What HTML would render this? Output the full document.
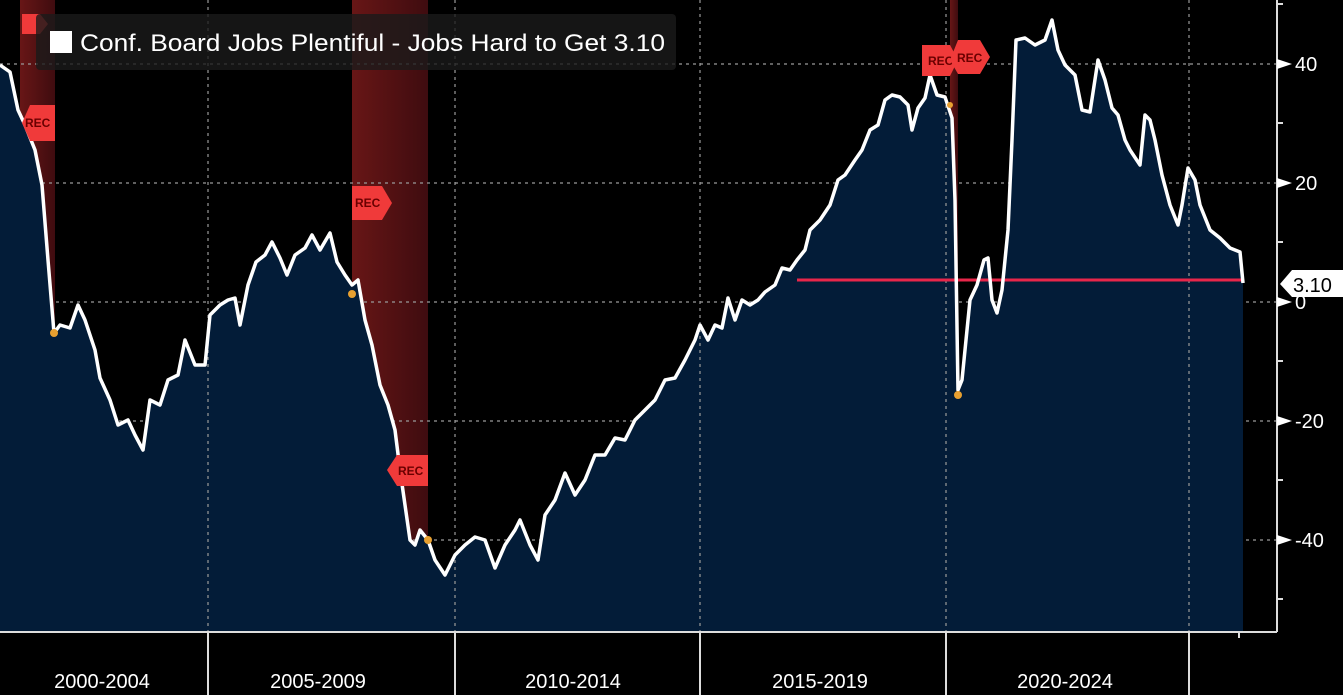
<!DOCTYPE html>
<html><head><meta charset="utf-8"><style>
html,body{margin:0;padding:0;background:#000;}
svg{display:block;font-family:"Liberation Sans",sans-serif;}
</style></head><body>
<svg width="1343" height="695" viewBox="0 0 1343 695">
<defs>
<linearGradient id="rec" x1="0" x2="1" y1="0" y2="0">
<stop offset="0" stop-color="#7a1a1a" stop-opacity="0.85"/><stop offset="1" stop-color="#4a0e12" stop-opacity="0.85"/></linearGradient>
</defs>
<rect width="1343" height="695" fill="#000"/>
<rect x="20" y="0" width="35" height="632" fill="url(#rec)"/>
<rect x="352" y="0" width="76" height="632" fill="url(#rec)"/>
<rect x="950" y="0" width="8" height="632" fill="url(#rec)"/>
<g stroke="#9a9a9a" stroke-width="1.2" stroke-dasharray="3,4">
<line x1="0" y1="64" x2="1277" y2="64"/><line x1="0" y1="183" x2="1277" y2="183"/>
<line x1="0" y1="302" x2="1277" y2="302"/><line x1="0" y1="421" x2="1277" y2="421"/>
<line x1="0" y1="540" x2="1277" y2="540"/>
</g>
<polygon fill="#031c38" points="0,632 0,65 10,72 18,110 25,125 35,150 42,185 48,260 54,333 60,325 70,328 78,305 85,320 95,350 100,378 110,400 118,425 128,420 135,435 143,450 150,400 160,405 168,380 178,375 185,340 195,365 205,365 210,315 220,305 228,300 235,298 240,325 248,285 256,262 265,255 272,242 280,258 287,275 295,255 305,248 312,235 320,250 330,233 337,262 345,275 352,285 358,280 365,320 372,345 380,385 388,405 395,430 400,470 405,505 410,540 415,545 420,530 428,540 435,560 445,575 455,555 465,545 475,537 485,540 495,568 505,545 515,530 520,520 530,545 538,560 545,515 555,500 565,473 575,495 585,480 595,455 605,455 615,438 625,440 635,420 645,410 655,400 665,380 675,378 685,360 695,340 700,325 708,340 715,325 722,328 728,298 735,320 742,300 750,305 758,300 765,292 775,285 782,268 790,270 797,260 805,250 810,230 820,220 830,205 838,180 845,175 855,160 862,150 870,130 878,125 885,100 892,95 900,97 908,105 912,130 918,108 925,98 930,75 937,95 945,97 952,118 955,200 958,390 962,380 966,340 970,300 977,285 984,260 988,258 992,300 997,313 1002,290 1008,230 1012,140 1016,40 1025,38 1035,45 1045,40 1052,20 1058,50 1065,65 1075,75 1082,110 1090,112 1098,60 1105,80 1112,108 1118,115 1125,140 1130,150 1140,165 1145,115 1150,120 1155,140 1162,175 1170,205 1178,225 1182,205 1188,168 1195,180 1200,205 1210,230 1220,238 1230,248 1240,252 1243,283 1243,632"/>
<g stroke="#9a9a9a" stroke-width="1.2" stroke-dasharray="3,4">
<line x1="208" y1="0" x2="208" y2="632"/><line x1="455" y1="0" x2="455" y2="632"/>
<line x1="700" y1="0" x2="700" y2="632"/><line x1="946" y1="0" x2="946" y2="632"/>
<line x1="1189" y1="0" x2="1189" y2="632"/>
</g>
<line x1="797" y1="280" x2="1243" y2="280" stroke="#e8264a" stroke-width="3"/>
<polyline fill="none" stroke="#fff" stroke-width="3.5" stroke-linejoin="round" points="0,65 10,72 18,110 25,125 35,150 42,185 48,260 54,333 60,325 70,328 78,305 85,320 95,350 100,378 110,400 118,425 128,420 135,435 143,450 150,400 160,405 168,380 178,375 185,340 195,365 205,365 210,315 220,305 228,300 235,298 240,325 248,285 256,262 265,255 272,242 280,258 287,275 295,255 305,248 312,235 320,250 330,233 337,262 345,275 352,285 358,280 365,320 372,345 380,385 388,405 395,430 400,470 405,505 410,540 415,545 420,530 428,540 435,560 445,575 455,555 465,545 475,537 485,540 495,568 505,545 515,530 520,520 530,545 538,560 545,515 555,500 565,473 575,495 585,480 595,455 605,455 615,438 625,440 635,420 645,410 655,400 665,380 675,378 685,360 695,340 700,325 708,340 715,325 722,328 728,298 735,320 742,300 750,305 758,300 765,292 775,285 782,268 790,270 797,260 805,250 810,230 820,220 830,205 838,180 845,175 855,160 862,150 870,130 878,125 885,100 892,95 900,97 908,105 912,130 918,108 925,98 930,75 937,95 945,97 952,118 955,200 958,390 962,380 966,340 970,300 977,285 984,260 988,258 992,300 997,313 1002,290 1008,230 1012,140 1016,40 1025,38 1035,45 1045,40 1052,20 1058,50 1065,65 1075,75 1082,110 1090,112 1098,60 1105,80 1112,108 1118,115 1125,140 1130,150 1140,165 1145,115 1150,120 1155,140 1162,175 1170,205 1178,225 1182,205 1188,168 1195,180 1200,205 1210,230 1220,238 1230,248 1240,252 1243,283"/>
<g fill="#e8a030"><circle cx="54" cy="333" r="4"/><circle cx="352" cy="294" r="4"/><circle cx="428" cy="540" r="4"/><circle cx="958" cy="395" r="4"/><circle cx="950" cy="105" r="3"/></g>
<g fill="#f03a3a" font-size="12" font-weight="bold">
<polygon points="22,14 40,14 48,24 40,34 22,34"/>
<polygon points="22,123 30,105 55,105 55,141 30,141"/><text x="25" y="127" fill="#6a0000">REC</text>
<polygon points="352,186 382,186 392,203 382,220 352,220"/><text x="355" y="207" fill="#6a0000">REC</text>
<polygon points="387,470 397,455 428,455 428,486 397,486"/><text x="398" y="475" fill="#6a0000">REC</text>
<polygon points="922,45 950,45 958,60 950,76 922,76"/><text x="928" y="65" fill="#6a0000">REC</text>
<polygon points="950,60 958,40 980,40 990,57 980,74 958,74"/><text x="957" y="62" fill="#6a0000">REC</text>
</g>
<rect x="36" y="14" width="640" height="56" rx="4" fill="#1a1a1a" fill-opacity="0.8"/>
<rect x="50" y="31" width="22" height="22" fill="#fff"/>
<text x="80" y="51" fill="#fff" font-size="24" textLength="585" lengthAdjust="spacingAndGlyphs">Conf. Board  Jobs Plentiful - Jobs Hard to Get 3.10</text>
<line x1="1277" y1="0" x2="1277" y2="632" stroke="#ddd" stroke-width="2"/>
<line x1="0" y1="632" x2="1277" y2="632" stroke="#ddd" stroke-width="2"/>
<g stroke="#ddd" stroke-width="2">
<line x1="1277" y1="4" x2="1283" y2="4"/><line x1="1277" y1="123" x2="1283" y2="123"/><line x1="1277" y1="242" x2="1283" y2="242"/><line x1="1277" y1="361" x2="1283" y2="361"/><line x1="1277" y1="480" x2="1283" y2="480"/><line x1="1277" y1="599" x2="1283" y2="599"/>
<line x1="208" y1="632" x2="208" y2="695"/><line x1="455" y1="632" x2="455" y2="695"/><line x1="700" y1="632" x2="700" y2="695"/><line x1="946" y1="632" x2="946" y2="695"/><line x1="1189" y1="632" x2="1189" y2="695"/><line x1="1239" y1="632" x2="1239" y2="638"/>
</g>
<g fill="#fff"><polygon points="1277,59 1292,64 1277,69"/><polygon points="1277,178 1292,183 1277,188"/><polygon points="1277,297 1292,302 1277,307"/><polygon points="1277,416 1292,421 1277,426"/><polygon points="1277,535 1292,540 1277,545"/></g>
<g fill="#fff" font-size="20">
<text x="1295" y="71">40</text><text x="1295" y="190">20</text><text x="1295" y="309">0</text><text x="1295" y="428">-20</text><text x="1295" y="547">-40</text>
</g>
<polygon points="1280,284 1292,270 1343,270 1343,297 1292,297" fill="#fff"/>
<text x="1293" y="292" fill="#000" font-size="20">3.10</text>
<g fill="#fff" font-size="20" text-anchor="middle">
<text x="102" y="688">2000-2004</text><text x="318" y="688">2005-2009</text><text x="573" y="688">2010-2014</text><text x="820" y="688">2015-2019</text><text x="1065" y="688">2020-2024</text>
</g>
</svg>
</body></html>
